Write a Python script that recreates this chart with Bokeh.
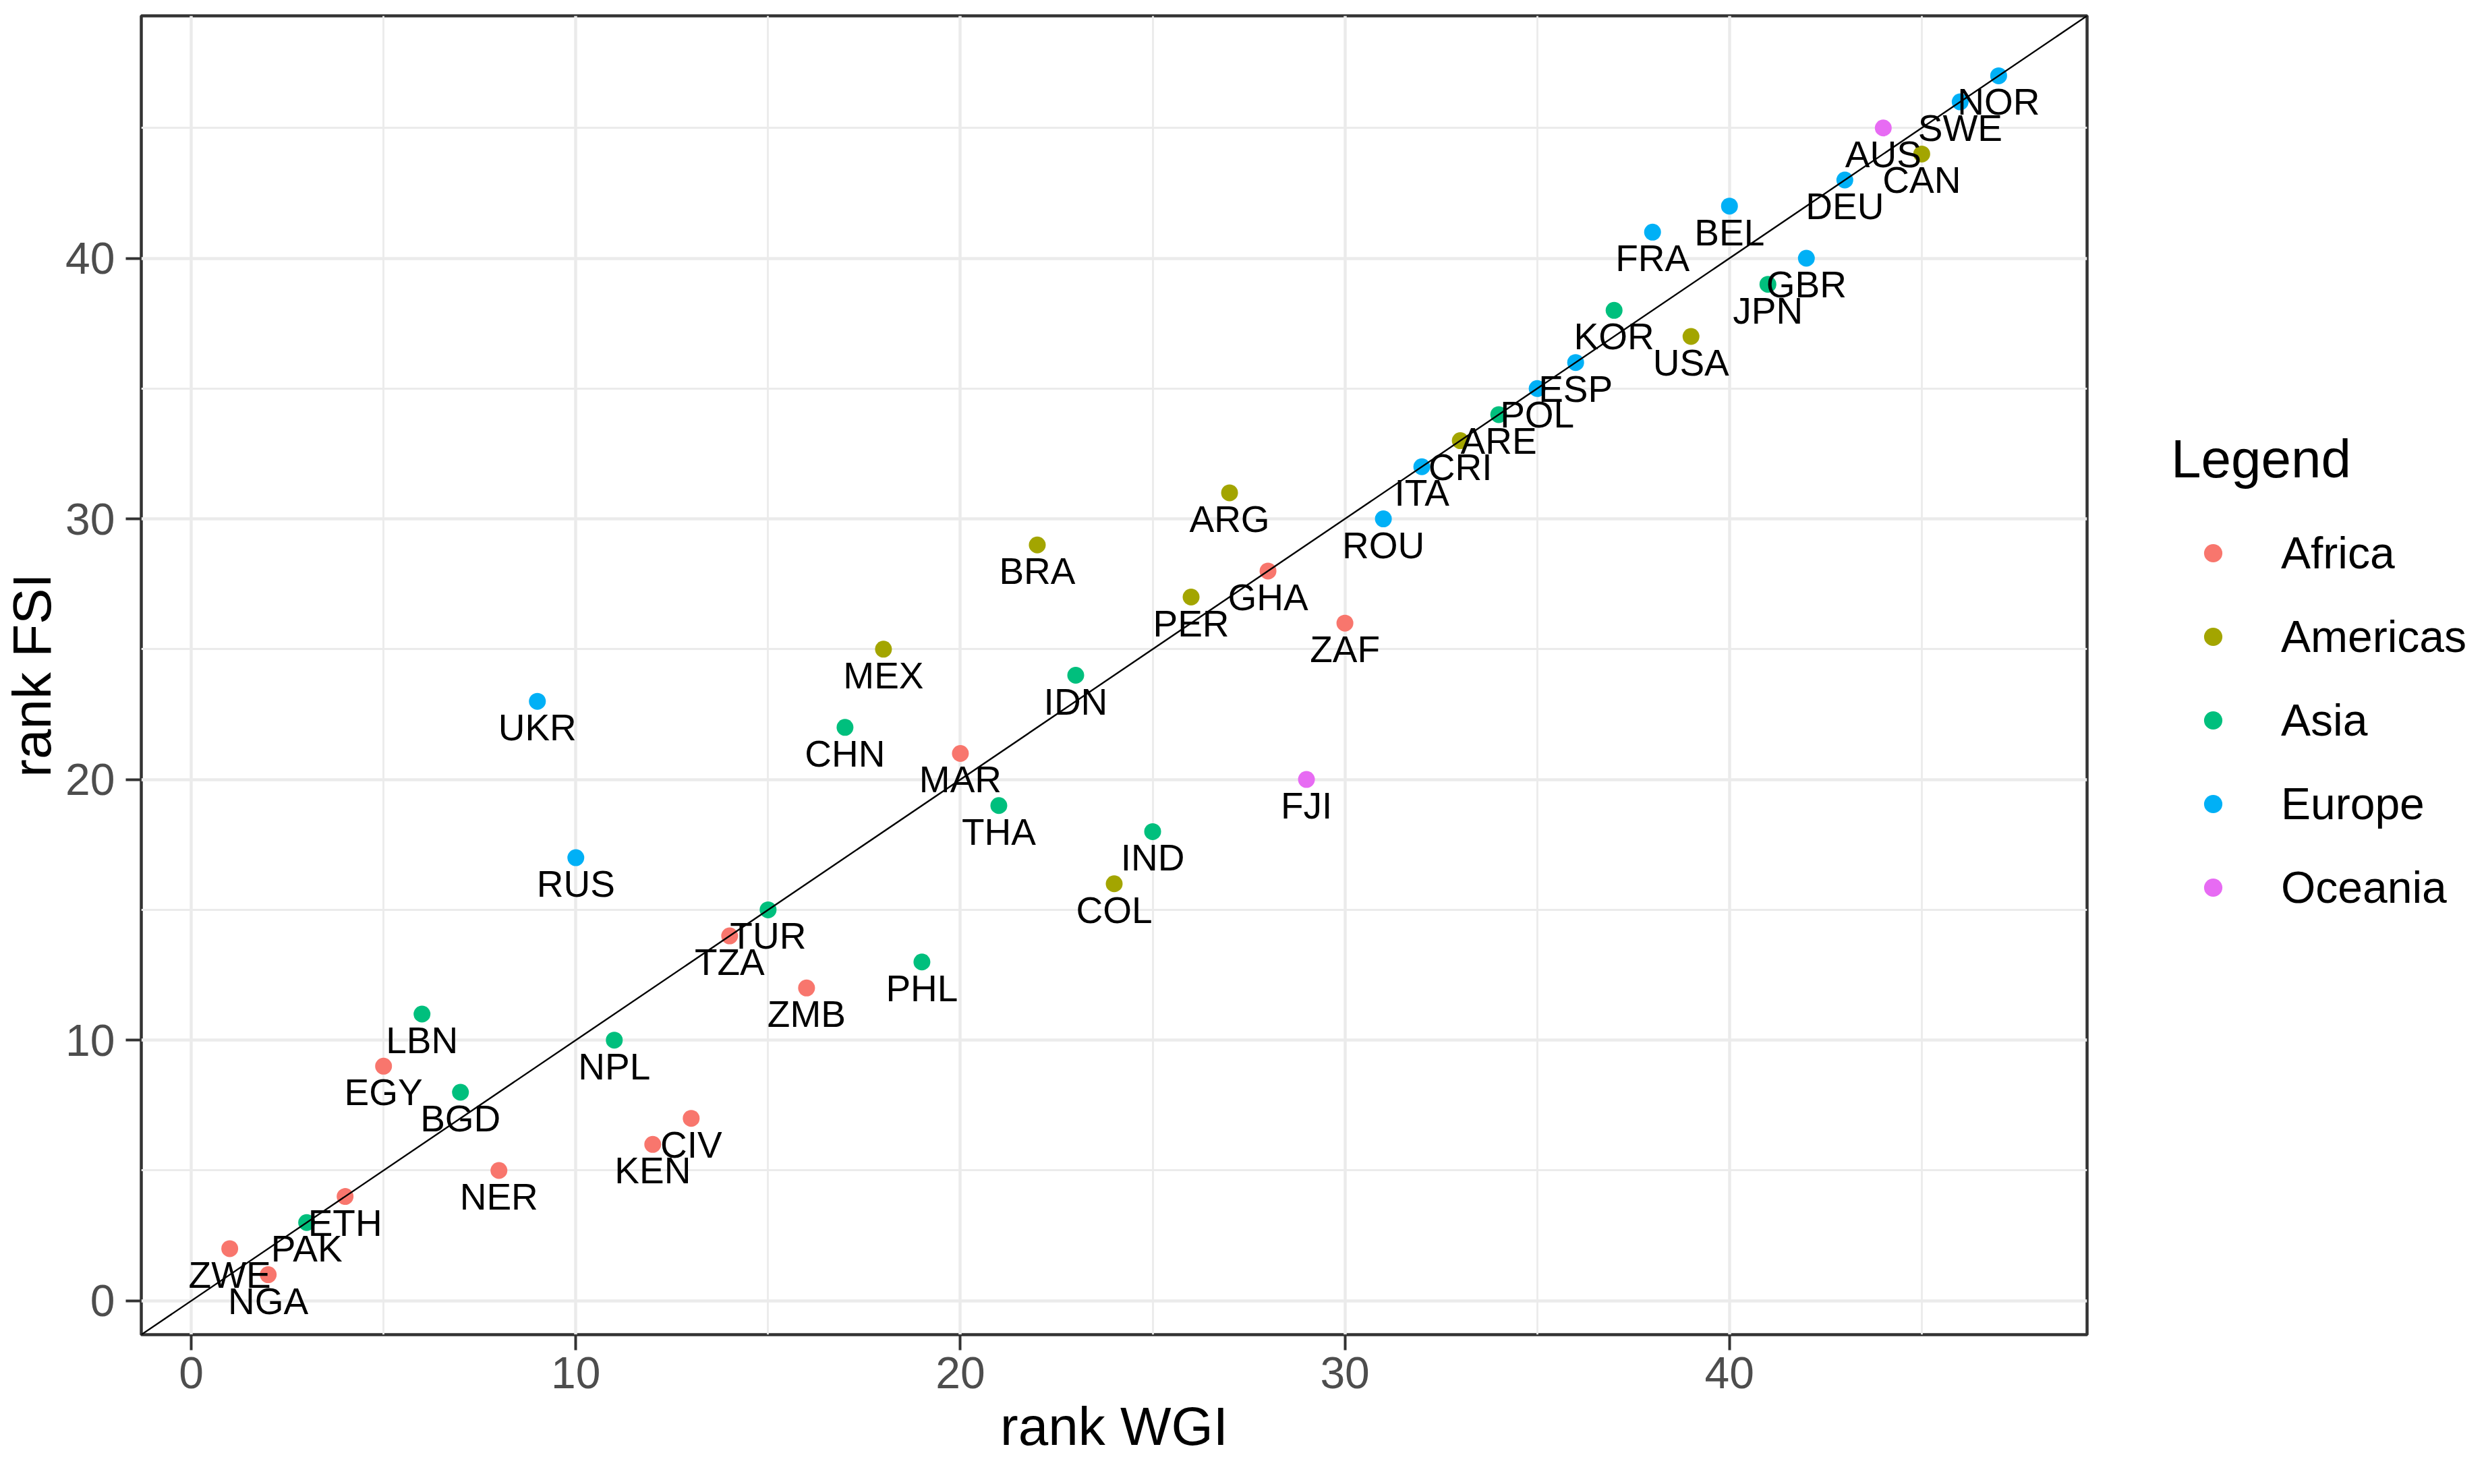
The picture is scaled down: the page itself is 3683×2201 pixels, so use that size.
from bokeh.plotting import figure
from bokeh.layouts import row
from bokeh.models import ColumnDataSource, Slope, Legend, LegendItem, FixedTicker, Range1d
from bokeh.core.properties import value
from bokeh.embed import file_html
from bokeh.resources import INLINE

# ---- data ----
countries = ["NOR", "SWE", "AUS", "CAN", "DEU", "BEL", "FRA", "GBR", "JPN", "KOR",
             "USA", "ESP", "POL", "ARE", "CRI", "ITA", "ROU", "ARG", "BRA", "GHA",
             "PER", "ZAF", "MEX", "IDN", "CHN", "MAR", "THA", "FJI", "IND", "COL",
             "PHL", "ZMB", "TUR", "TZA", "UKR", "RUS", "LBN", "EGY", "BGD", "NPL",
             "CIV", "KEN", "NER", "ETH", "PAK", "ZWE", "NGA"]
continents = ["Europe", "Europe", "Oceania", "Americas", "Europe", "Europe", "Europe", "Europe", "Asia", "Asia",
              "Americas", "Europe", "Europe", "Asia", "Americas", "Europe", "Europe", "Americas", "Americas", "Africa",
              "Americas", "Africa", "Americas", "Asia", "Asia", "Africa", "Asia", "Oceania", "Asia", "Americas",
              "Asia", "Africa", "Asia", "Africa", "Europe", "Europe", "Asia", "Africa", "Asia", "Asia",
              "Africa", "Africa", "Africa", "Africa", "Asia", "Africa", "Africa"]
rank_wgi = [47, 46, 44, 45, 43, 40, 38, 42, 41, 37,
            39, 36, 35, 34, 33, 32, 31, 27, 22, 28,
            26, 30, 18, 23, 17, 20, 21, 29, 25, 24,
            19, 16, 15, 14, 9, 10, 6, 5, 7, 11,
            13, 12, 8, 4, 3, 1, 2]
rank_fsi = [47, 46, 45, 44, 43, 42, 41, 40, 39, 38,
            37, 36, 35, 34, 33, 32, 30, 31, 29, 28,
            27, 26, 25, 24, 22, 21, 19, 20, 18, 16,
            13, 12, 15, 14, 23, 17, 11, 9, 8, 10,
            7, 6, 5, 4, 3, 2, 1]
legend_title = "Legend"
legend_order = ["Africa", "Americas", "Asia", "Europe", "Oceania"]
palette = ["#F8766D", "#A3A500", "#00BF7D", "#00B0F6", "#E76BF3"]
major_ticks = [0, 10, 20, 30, 40]
minor_ticks = [5, 15, 25, 35, 45]

FONT = "Liberation Sans"
TOTAL_W, TOTAL_H = 3667, 2185
MAIN_W = 3102

# ggplot-like 5% expansion of the data range
lo = min(min(rank_wgi), min(rank_fsi))
hi = max(max(rank_wgi), max(rank_fsi))
pad = 0.05 * (hi - lo)

p = figure(width=MAIN_W, height=TOTAL_H, output_backend="svg", toolbar_location=None,
           x_range=Range1d(lo - pad, hi + pad), y_range=Range1d(lo - pad, hi + pad),
           min_border_left=205, min_border_right=8, min_border_top=23, min_border_bottom=206,
           x_axis_label="rank WGI", y_axis_label="rank FSI")
p.background_fill_color = "white"
p.border_fill_color = "white"
p.outline_line_color = "#333333"
p.outline_line_width = 4.5

for g in (p.xgrid, p.ygrid):
    g.grid_line_color = "#EBEBEB"
    g.grid_line_width = 4.5
    g.minor_grid_line_color = "#EBEBEB"
    g.minor_grid_line_width = 2.8

for ax in (p.xaxis, p.yaxis):
    ax.ticker = FixedTicker(ticks=major_ticks, minor_ticks=minor_ticks)
    ax.axis_line_color = None
    ax.major_tick_line_color = "#333333"
    ax.major_tick_line_width = 4
    ax.major_tick_out = 23
    ax.major_tick_in = 0
    ax.minor_tick_line_color = None
    ax.major_label_text_font = FONT
    ax.major_label_text_font_size = "66px"
    ax.major_label_text_color = "#4D4D4D"
    ax.axis_label_text_font = FONT
    ax.axis_label_text_font_size = "80px"
    ax.axis_label_text_font_style = "normal"
    ax.axis_label_text_color = "black"

p.xaxis.major_label_standoff = 10
p.xaxis.axis_label_standoff = 9
p.yaxis.major_label_standoff = 16
p.yaxis.axis_label_standoff = 2

# points by continent
sources = []
for cont, col in zip(legend_order, palette):
    idx = [i for i, c in enumerate(continents) if c == cont]
    src = ColumnDataSource(dict(x=[rank_wgi[i] for i in idx],
                                y=[rank_fsi[i] for i in idx]))
    sources.append(src)
    p.scatter("x", "y", source=src, size=25, fill_color=col, line_color=None)

# country labels
lab_src = ColumnDataSource(dict(x=rank_wgi, y=rank_fsi, t=countries))
p.text("x", "y", text="t", source=lab_src, text_font=value(FONT), text_font_size="55px",
       text_align="center", text_baseline="middle", y_offset=39, text_color="black")

# identity line
p.add_layout(Slope(gradient=1, y_intercept=0, line_color="black", line_width=2.4))

# ---- legend panel (separate figure to the right; its ranges keep the data out of view) ----
pl = figure(width=TOTAL_W - MAIN_W, height=TOTAL_H, output_backend="svg", toolbar_location=None,
            x_axis_type=None, y_axis_type=None, x_range=(1000, 1001), y_range=(1000, 1001),
            min_border_left=0, min_border_right=0, min_border_top=0, min_border_bottom=0)
pl.outline_line_color = None
pl.background_fill_color = "white"
pl.border_fill_color = "white"
pl.grid.visible = False

items = []
for cont, col, src in zip(legend_order, palette, sources):
    r = pl.scatter("x", "y", source=src, size=25, fill_color=col, line_color=None)
    items.append(LegendItem(label=cont, renderers=[r]))

legend = Legend(items=items, location=(117, 625), orientation="vertical",
                title=legend_title, title_text_font=FONT, title_text_font_size="80px",
                title_text_font_style="normal", title_text_color="black", title_standoff=55,
                glyph_width=124, glyph_height=68, label_height=68, label_standoff=39,
                spacing=48, padding=0, margin=0, border_line_color=None,
                background_fill_alpha=0, label_text_font=FONT,
                label_text_font_size="66px", label_text_color="black",
                label_text_baseline="middle")
pl.add_layout(legend, "center")

layout = row(p, pl)
open("out.html", "w").write(file_html(layout, INLINE))
